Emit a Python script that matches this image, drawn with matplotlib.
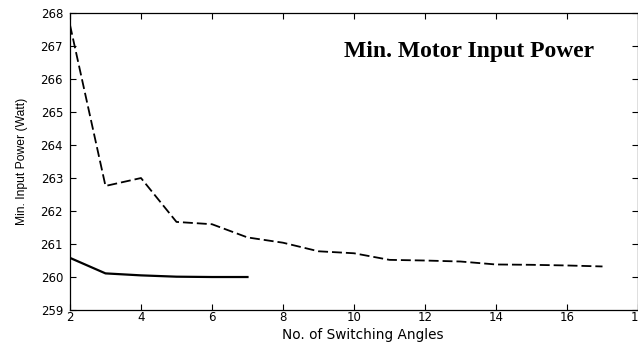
import matplotlib
matplotlib.use('Agg')
import matplotlib.pyplot as plt

# values
angles_dashed = [2, 3, 4, 5, 6, 7, 8, 9, 10, 11, 12, 13, 14, 15, 16, 17]
power_dashed = [267.64, 262.76, 263.0, 261.67, 261.6, 261.2, 261.04, 260.78,
                260.72, 260.52, 260.5, 260.47, 260.38, 260.37, 260.35, 260.32]

angles_solid = [2, 3, 4, 5, 6, 7]
power_solid = [260.58, 260.11, 260.05, 260.01, 260.0, 260.0]

x_ticks = [2, 4, 6, 8, 10, 12, 14, 16, 18]
y_ticks = [259, 260, 261, 262, 263, 264, 265, 266, 267, 268]

fig = plt.figure(figsize=(6.38, 3.44), dpi=100)
ax = fig.add_axes([0.1097, 0.0988, 0.8903, 0.8632])

ax.plot(angles_dashed, power_dashed, color='black', lw=1.3, ls=(0, (5.5, 2.2)))
ax.plot(angles_solid, power_solid, color='black', lw=1.6)

ax.set_xlim(2, 18)
ax.set_ylim(259, 268)
ax.set_xticks(x_ticks)
ax.set_yticks(y_ticks)
ax.tick_params(direction='in', top=True, right=True, length=4, width=0.8,
               labelsize=8.5)
ax.tick_params(axis='x', pad=1)
ax.tick_params(axis='y', pad=5)
for lab in ax.get_xticklabels() + ax.get_yticklabels():
    lab.set_family('DejaVu Sans')
for sp in ax.spines.values():
    sp.set_linewidth(0.9)

ax.set_xlabel('No. of Switching Angles', family='DejaVu Sans', fontsize=9.8)
ax.xaxis.set_label_coords(0.516, -0.062)
ax.xaxis.label.set_va('top')
ax.set_ylabel('Min. Input Power (Watt)', family='Liberation Sans', fontsize=8.7,
              labelpad=9)

ax.text(0.702, 0.869, 'Min. Motor Input Power', transform=ax.transAxes,
        ha='center', va='center', family='Liberation Serif',
        fontweight='bold', fontsize=17)

fig.savefig('out.png', dpi=100)
